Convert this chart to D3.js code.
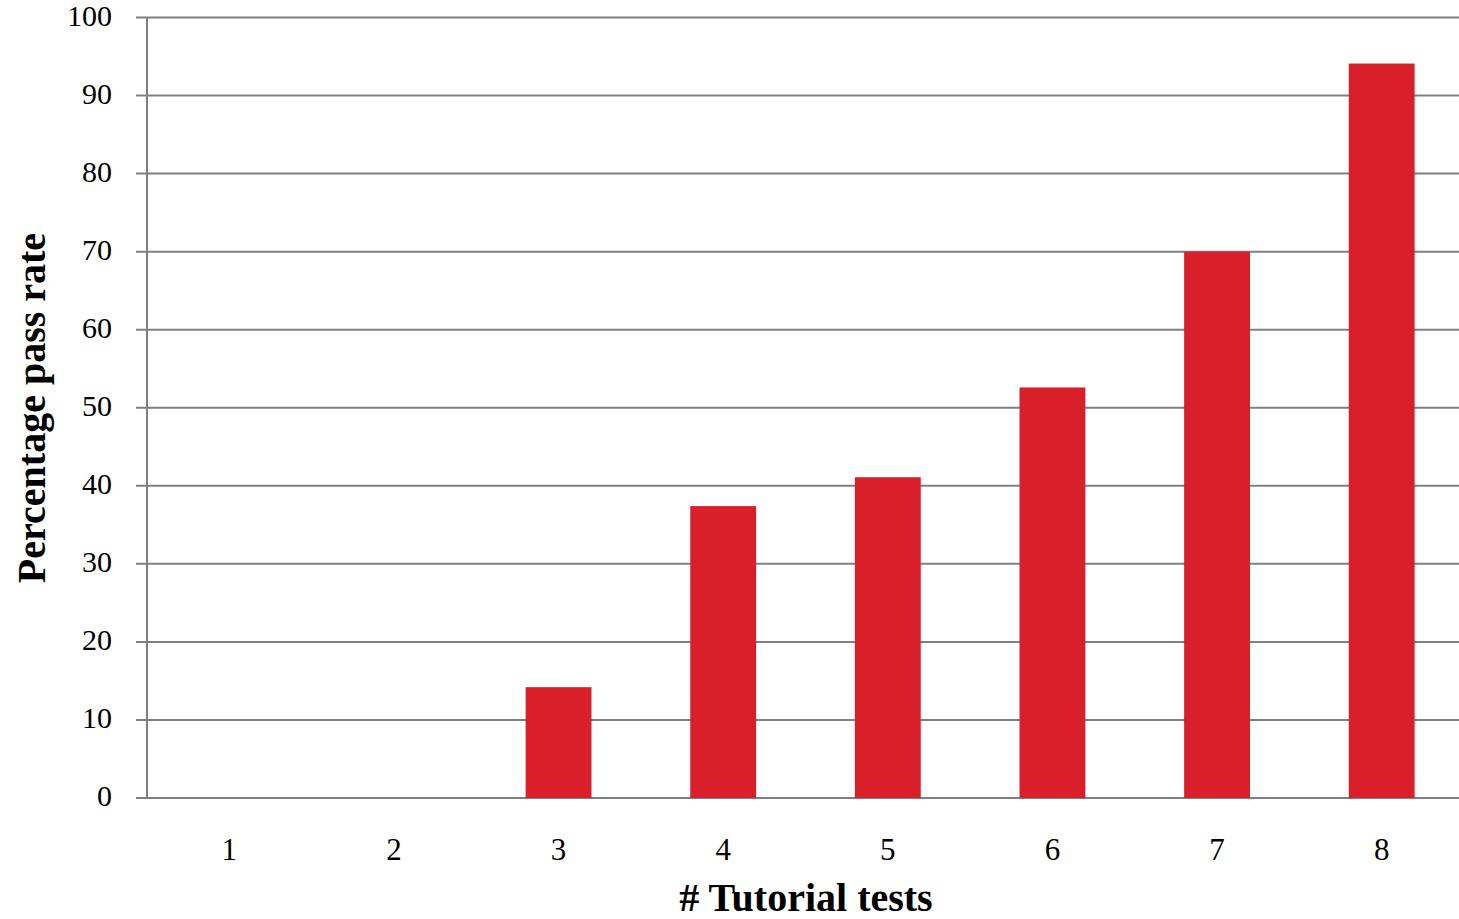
<!DOCTYPE html>
<html>
<head>
<meta charset="utf-8">
<script src="https://cdn.jsdelivr.net/npm/d3@7"></script>
<style>
  body { margin: 0; background: #fff; }
  svg text { font-family: "Liberation Serif", "DejaVu Serif", serif; fill: #000; }
</style>
</head>
<body>
<svg id="chart" width="1459" height="919"></svg>
<script>
// data
var categories = ["1", "2", "3", "4", "5", "6", "7", "8"];
var passRate = [0, 0, 14.2, 37.4, 41.1, 52.6, 70.0, 94.1];
var yTicks = [0, 10, 20, 30, 40, 50, 60, 70, 80, 90, 100];

var svg = d3.select("#chart");
var plotLeft = 147, plotRight = 1464, plotTop = 17.5, plotBottom = 798;

var x = d3.scaleBand().domain(categories).range([plotLeft, plotRight]).paddingInner(0.6).paddingOuter(0.3);
var y = d3.scaleLinear().domain([0, 100]).range([plotBottom, plotTop]);

// gridlines + little ticks on the left
svg.append("g").selectAll("line").data(yTicks).enter().append("line")
    .attr("x1", 136).attr("x2", 1459)
    .attr("y1", function (d) { return y(d); })
    .attr("y2", function (d) { return y(d); })
    .attr("stroke", "#808080").attr("stroke-width", 2);

svg.append("line")
    .attr("x1", plotLeft).attr("x2", plotLeft).attr("y1", plotTop).attr("y2", plotBottom)
    .attr("stroke", "#808080").attr("stroke-width", 2);

// bars
svg.append("g").selectAll("rect").data(passRate).enter().append("rect")
    .attr("x", function (d, i) { return x(categories[i]); })
    .attr("width", x.bandwidth())
    .attr("y", function (d) { return y(d); })
    .attr("height", function (d) { return plotBottom - y(d); })
    .attr("fill", "#d9202a");

// y tick labels
svg.append("g").selectAll("text").data(yTicks).enter().append("text")
    .attr("x", 112).attr("y", function (d) { return y(d) + 8; })
    .attr("text-anchor", "end").attr("font-size", 30)
    .text(function (d) { return d; });

// x tick labels
svg.append("g").selectAll("text").data(categories).enter().append("text")
    .attr("x", function (d) { return x(d) + x.bandwidth() / 2; })
    .attr("y", 860)
    .attr("text-anchor", "middle").attr("font-size", 31)
    .text(function (d) { return d; });

// axis titles
svg.append("text")
    .attr("x", 806).attr("y", 911)
    .attr("text-anchor", "middle").attr("font-size", 40).attr("font-weight", "bold")
    .text("# Tutorial tests");

svg.append("text")
    .attr("transform", "translate(45,408) rotate(-90)")
    .attr("text-anchor", "middle").attr("font-size", 40).attr("font-weight", "bold")
    .text("Percentage pass rate");
</script>
</body>
</html>
